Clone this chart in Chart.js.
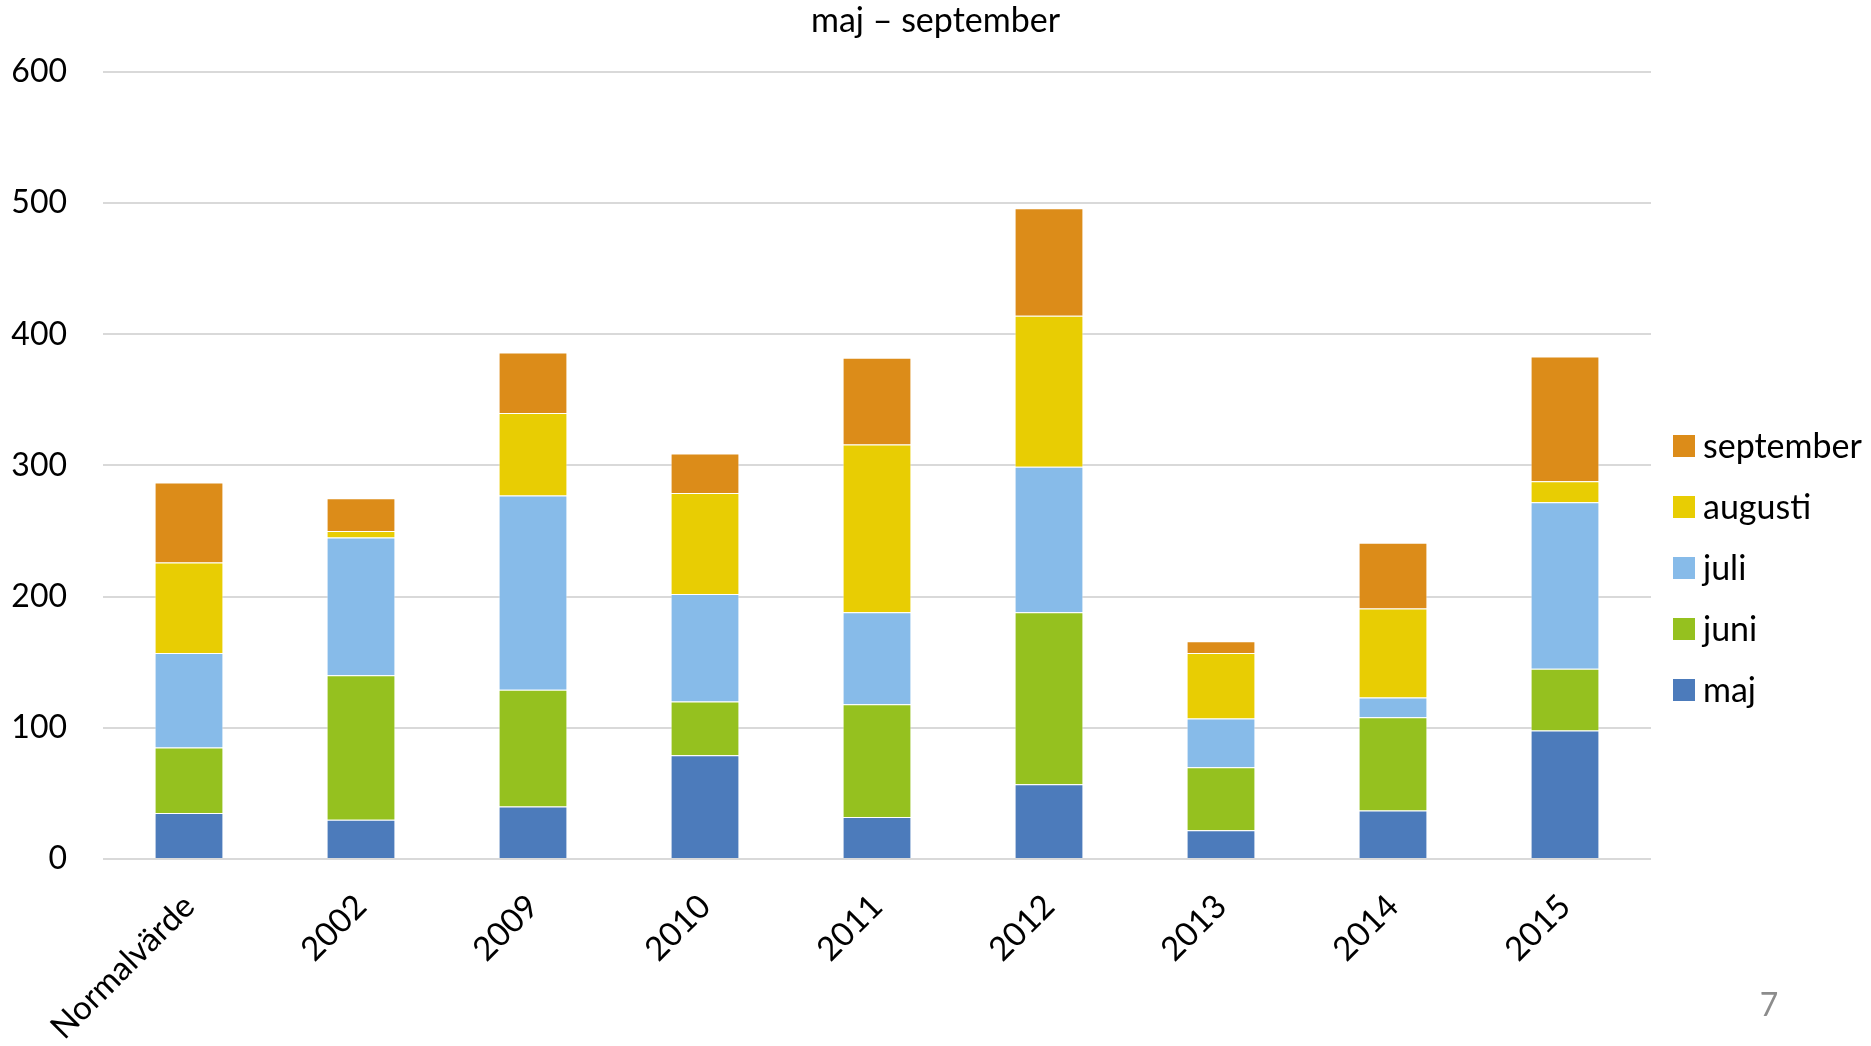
<!DOCTYPE html>
<html>
<head>
<meta charset="utf-8">
<script src="https://cdn.jsdelivr.net/npm/chart.js@4/dist/chart.umd.min.js"></script>
<style>
  body { margin: 0; background: #fff; }
  #wrap { width: 1871px; height: 1046px; }
</style>
</head>
<body>
<div id="wrap"><canvas id="chart" width="1871" height="1046"></canvas></div>
<script>
const categories = ["Normalvärde", "2002", "2009", "2010", "2011", "2012", "2013", "2014", "2015"];

const maj       = [35, 30, 40, 79, 32, 57, 22, 37, 98];
const juni      = [50, 110, 89, 41, 86, 131, 48, 71, 47];
const juli      = [72, 105, 148, 82, 70, 111, 37, 15, 127];
const augusti   = [69, 5, 63, 77, 128, 115, 50, 68, 16];
const september = [61, 25, 46, 30, 66, 82, 9, 50, 95];

const yTicks = [0, 100, 200, 300, 400, 500, 600];

const FONT = "Lato, 'Open Sans', sans-serif";

// legend on the right, september at the top (Excel style)
const sideLegend = {
  id: "sideLegend",
  afterDraw(chart) {
    const ctx = chart.ctx;
    const sets = chart.data.datasets.slice().reverse();
    const x = chart.chartArea.right + 22;
    let y = 446;
    ctx.save();
    ctx.font = "34px " + FONT;
    ctx.textBaseline = "middle";
    ctx.textAlign = "left";
    sets.forEach(s => {
      ctx.fillStyle = s.backgroundColor;
      ctx.fillRect(x, y - 11, 22, 22);
      ctx.fillStyle = "#000";
      ctx.fillText(s.label, x + 30, y + 1);
      y += 61;
    });
    // page number
    ctx.fillStyle = "#8c8c8c";
    ctx.font = "32px " + FONT;
    ctx.textAlign = "center";
    ctx.fillText("7", 1769, 1006);
    ctx.restore();
  }
};

function ds(label, data, color) {
  return {
    label: label,
    data: data,
    backgroundColor: color,
    borderColor: "rgba(255,255,255,0.5)",
    borderWidth: 1,
    barPercentage: 0.4,
    categoryPercentage: 1.0
  };
}

new Chart(document.getElementById("chart"), {
  type: "bar",
  data: {
    labels: categories,
    datasets: [
      ds("maj", maj, "#4c7bbb"),
      ds("juni", juni, "#95c11f"),
      ds("juli", juli, "#87bbe9"),
      ds("augusti", augusti, "#e8cd03"),
      ds("september", september, "#dc8c19")
    ]
  },
  options: {
    responsive: false,
    animation: false,
    layout: { padding: 0 },
    plugins: {
      title: {
        display: true,
        text: "maj – september",
        color: "#000",
        font: { family: FONT, size: 34, weight: "normal" },
        padding: { top: 1, bottom: 30 }
      },
      legend: { display: false },
      tooltip: { enabled: false }
    },
    scales: {
      x: {
        stacked: true,
        grid: { display: false },
        border: { display: false },
        afterFit(axis) {
          axis.height = 187;
          axis.paddingLeft = 0;
          axis.paddingRight = 0;
        },
        ticks: {
          color: "#000",
          font: { family: FONT, size: 33 },
          maxRotation: 45,
          minRotation: 45,
          padding: 20
        }
      },
      y: {
        stacked: true,
        min: 0,
        max: 600,
        afterBuildTicks(axis) {
          axis.ticks = yTicks.map(v => ({ value: v }));
        },
        afterFit(axis) {
          axis.width = 103;
        },
        grid: { color: "#d9d9d9", lineWidth: 2, drawTicks: false },
        border: { display: false },
        ticks: {
          color: "#000",
          font: { family: FONT, size: 32 },
          padding: 36
        }
      },
      // empty right-hand axis that keeps room for the legend
      legendSpace: {
        position: "right",
        grid: { display: false },
        border: { display: false },
        ticks: { display: false },
        afterFit(axis) {
          axis.width = 220;
        }
      }
    }
  },
  plugins: [sideLegend]
});
</script>
</body>
</html>
